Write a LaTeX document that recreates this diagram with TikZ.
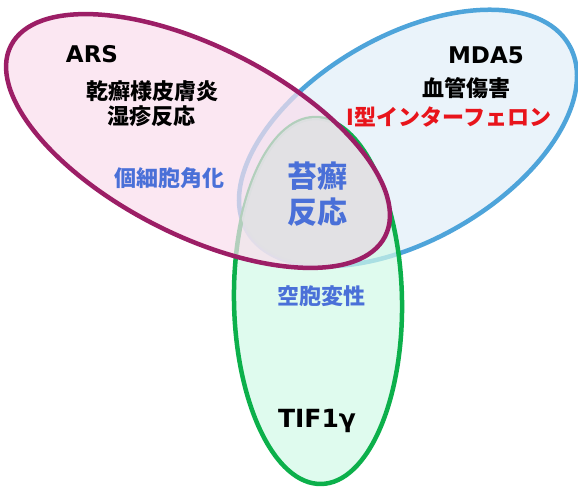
\documentclass[tikz,border=0pt]{standalone}
\usepackage{fontspec}
\newfontfamily\jp{Noto Sans CJK JP}
\newfontfamily\lat{DejaVu Sans}
\definecolor{pinkline}{RGB}{156,30,102}
\definecolor{pinkfill}{RGB}{249,221,236}
\definecolor{blueline}{RGB}{78,164,218}
\definecolor{bluefill}{RGB}{234,243,250}
\definecolor{greenline}{RGB}{12,176,75}
\definecolor{greenfill}{RGB}{210,249,231}
\definecolor{grayfill}{RGB}{225,225,228}
\definecolor{txtblue}{RGB}{74,112,216}
\definecolor{txtred}{RGB}{232,20,27}
\tikzset{
  ring/.style={line width=4.5pt},
  jptxt/.style={font=\jp\bfseries\fontsize{22}{26}\selectfont, inner sep=0pt},
  bigtxt/.style={font=\jp\bfseries\fontsize{30}{34}\selectfont, inner sep=0pt, text=txtblue},
  head/.style={font=\lat\bfseries\fontsize{23}{27}\selectfont, inner sep=0pt},
}
\begin{document}
\begin{tikzpicture}[x=1pt,y=-1pt]
\useasboundingbox (0,0) rectangle (578,487);
% blue ellipse (MDA5)
\path[fill=bluefill, draw=blueline, ring, rotate around={30:(408,138)}]
  (408,138) ellipse [x radius=186, y radius=102];
% green ellipse (TIF1g)
\path[fill=greenfill, fill opacity=0.7, rotate around={1:(318,301)}]
  (318,301) ellipse [x radius=84, y radius=183];
\path[draw=greenline, ring, rotate around={1:(318,301)}]
  (318,301) ellipse [x radius=84, y radius=183];
% pink fill (ARS)
\path[fill=pinkfill, fill opacity=0.7, rotate around={-27:(198,141)}]
  (198,141) ellipse [x radius=210, y radius=94];
% grey intersection
\begin{scope}
  \clip[rotate around={-27:(198,141)}] (198,141) ellipse [x radius=210, y radius=94];
  \clip[rotate around={30:(408,138)}] (408,138) ellipse [x radius=186, y radius=102];
  \path[fill=grayfill, fill opacity=0.9, rotate around={1:(318,301)}]
    (318,301) ellipse [x radius=84, y radius=183];
\end{scope}
% pink outline
\path[draw=pinkline, ring, rotate around={-27:(198,141)}]
  (198,141) ellipse [x radius=210, y radius=94];
% texts
\node[head] (ars) at (92,54) {ARS};
\node[jptxt] (ars1) at (152,91) {乾癬様皮膚炎};
\node[jptxt] (ars2) at (151,116) {湿疹反応};
\node[jptxt, text=txtblue] (ars3) at (169,178) {個細胞角化};
\node[head] (mda) at (486,55) {MDA5};
\node[jptxt] (mda1) at (466,88) {血管傷害};
\node[jptxt, text=txtred] (mda2) at (449,117) {I型インターフェロン};
\node[bigtxt] (c1) at (317,176) {苔癬};
\node[bigtxt] (c2) at (317,212) {反応};
\node[jptxt, text=txtblue] (tif1) at (321,296) {空胞変性};
\node[head, font=\lat\bfseries\fontsize{25}{29}\selectfont, anchor=base] (tif) at (317,427) {TIF1γ};
\end{tikzpicture}
\end{document}
